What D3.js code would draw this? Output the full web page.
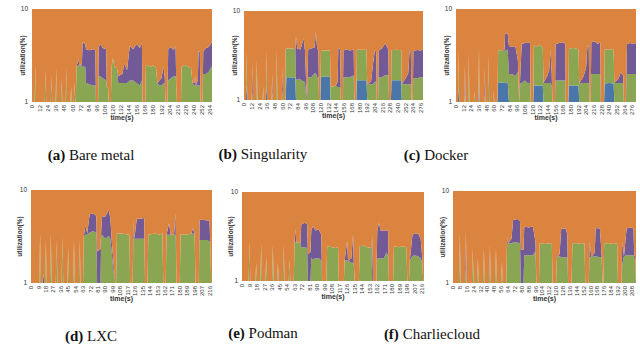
<!DOCTYPE html>
<html>
<head>
<meta charset="utf-8">
<script src="https://cdn.jsdelivr.net/npm/d3@7"></script>
<style>
  body { margin: 0; background: #fff; }
  text { font-family: "Liberation Sans", Arial, sans-serif; }
  .cap { font-family: "Liberation Serif", "DejaVu Serif", serif; font-size: 15px; fill: #111; }
</style>
</head>
<body>
<svg id="fig" width="640" height="347"></svg>
<script>
// rows: [time(s), blue, green, purple] -- utilisation in %, the rest (orange) is what is left up to 100
const bareMetal = [
  [0,0,0,0],[4,0,0,0],[5,0,2.5,0],[6,0,0,0],
  [19,0,0,0],[20,0,2.2,0],[21,0,0,0],
  [28,0,0,0],[29,0,1.7,0.2],[30,0,0,0],
  [35,0,0,0],[36,0,2.3,0],[37,0,0,0],
  [43,0,0,0],[44,0,1.6,0.2],[45,0,0,0],
  [50,0,0,0],[51,0,2.3,0],[52,0,0,0],
  [57,0,0,0],[58,0,1.45,0],[59,0,0,0],
  [62,0,0,0],[63,0,1.6,0],[64,0,0,0],
  [65,0,0,0],[66,0,2.4,0],[69,0,2.5,0.4],[70,0,2.5,0],[74,0,2.45,0.1],[75,0,2.4,2.0],[79,0,2.4,1.8],[80,0,1.6,2.1],[85,0,1.55,2.05],[90,0,1.5,2.2],[94,0,1.5,2.1],[95,0,0,0],
  [98,0,0,0],[99,0,1.9,2.0],[101,0,1.9,2.3],[105,0,1.8,2.0],[110,0,1.7,2.0],[111,0,1.45,0],[113,0,1.4,0],[114,0,0,0],
  [117,0,0,0],[118,0,2.4,0],[120,0,3.0,0],[122,0,2.4,0],[126,0,2.3,0],[128,0,1.6,0.3],[134,0,1.6,0.4],[137,0,1.6,1.0],[141,0,1.6,0.6],[145,0,1.7,2.3],[150,0,1.7,2.0],[155,0,1.6,2.6],[160,0,1.5,2.3],[163,0,1.7,2.6],[164,0,0,0],
  [168,0,0,0],[169,0,2.5,0],[176,0,2.4,0],[180,0,2.5,0],[184,0,2.3,0],[186,0,1.6,0],[189,0,1.5,0.2],[192,0,1.5,0.3],[195,0,1.6,0.8],[197,0,1.6,0.2],[198,0,0,0],
  [201,0,0,0],[202,0,1.7,2.0],[206,0,1.8,2.1],[210,0,1.9,1.7],[213,0,1.9,2.1],[214,0,1.5,0],[215,0,0,0],
  [221,0,0,0],[222,0,2.4,0],[226,0,2.5,0],[232,0,2.4,0],[236,0,2.3,0],[238,0,1.6,0],[241,0,1.5,0.1],[242,0,1.5,0.45],[243,0,1.5,0],[246,0,1.5,0.2],[247,0,1.5,2.0],[249,0,1.5,2.0],[250,0,0,0],
  [253,0,0,0],[254,0,2.0,1.5],[258,0,2.0,1.8],[262,0,2.1,1.8],[266,0,2.4,1.9],[267,0,2.4,2.0]
];

const singularity = [
  [0,0,0,0],[3,0,0,0],[4,1.5,2.1,0],[5,0,0,0],
  [12,0,0,0],[13,0,1.2,1.4],[14,0,0,0],
  [19,0,0,0],[20,0,2.8,0],[21,0,0,0],
  [29,0,0,0],[30,0,1.4,0],[31,0,0,0],
  [34,0,0,0],[35,1.5,2.1,0],[36,0,0,0],
  [43,0,0,0],[44,0,1.2,0.8],[45,0,0,0],
  [50,0,0,0],[51,0,3.6,0],[52,0,0,0],
  [59,0,0,0],[60,0,1.3,1.0],[61,0,0,0],
  [64,0,0,0],[65,0,3.7,0],[66,1.8,2.0,0],[72,1.8,2.0,0],[76,1.75,2.05,0],[80,1.8,1.9,0],[81,0,1.7,3.5],[83,0,1.7,2.1],[88,0,1.7,2.0],[93,0,1.6,3.3],[95,0,1.6,2.0],[97,0,0.5,1.0],[98,0,0,0],
  [100,0,1.8,1.9],[105,0,1.8,2.0],[110,0,2.0,1.9],[112,0,2.0,3.8],[114,0,1.8,2.0],[116,0,1.8,1.8],[117,0,0,0],
  [119,0,0,0],[120,1.8,1.8,0],[128,1.85,1.75,0],[134,1.8,1.8,0],[135,0,1.4,0],[143,0,1.45,0],[146,0,1.4,0.2],[147,0,1.4,2.5],[150,0,1.4,2.3],[151,0,0,0],
  [154,0,0,0],[155,0,1.8,1.8],[160,0,1.8,1.9],[165,0,1.8,1.8],[171,0,1.9,1.8],[172,0,0,0],
  [175,0,0,0],[176,1.67,2.0,0],[184,1.67,2.0,0],[191,1.67,2.0,0],[192,0,1.5,0],[198,0,1.5,0.1],[201,0,1.5,1.0],[204,0,1.6,2.0],[206,0,1.6,1.9],[207,0,0,0],
  [209,0,0,0],[210,0,1.8,1.8],[215,0,1.8,2.0],[220,0,1.9,2.4],[225,0,1.9,1.8],[226,0,0,0],
  [229,0,0,0],[230,1.67,1.95,0],[238,1.67,2.0,0],[245,1.67,1.95,0],[246,0,1.5,0],[252,0,1.5,0.25],[256,0,1.5,0.5],[258,0,1.5,2.1],[260,0,1.5,2.0],[261,0,0,0],
  [263,0,0,0],[264,0,1.75,1.8],[270,0,1.75,1.9],[275,0,1.8,1.8],[279,0,1.8,1.9]
];

const docker = [
  [0,0,0,0],[3,0,0,0],[4,1.5,2.1,0],[5,0,0,0],
  [13,0,0,0],[14,0,1.2,1.3],[15,0,0,0],
  [19,0,0,0],[20,0,3.3,0],[21,0,0,0],
  [28,0,0,0],[29,0,1.3,0],[30,0,0,0],
  [35,0,0,0],[36,1.6,2.2,0],[37,0,0,0],
  [44,0,0,0],[45,0,1.2,1.1],[46,0,0,0],
  [50,0,0,0],[51,0,3.2,0],[52,0,0,0],
  [58,0,0,0],[59,0,1.3,0],[60,0,0,0],
  [65,0,0,0],[66,1.64,1.96,0],[72,1.6,2.0,0],[76,1.64,1.9,0.1],[77,1.6,2.0,1.9],[81,1.64,2.0,1.8],[83,0,2.0,2.0],[88,0,2.0,1.9],[93,0,1.9,2.1],[97,0,2.1,0.7],[99,0,0.5,0.5],[101,0,1.6,0.6],[103,0,1.6,2.6],[108,0,1.7,2.6],[112,0,1.6,2.8],[116,0,1.6,2.7],[117,0,0,0],
  [121,0,0,0],[122,1.5,2.6,0],[126,1.5,2.4,0],[130,1.5,2.6,0],[136,1.5,2.4,0],[137,0,1.6,0],[143,0,1.6,0.3],[146,0,1.6,0.6],[148,0,1.6,2.0],[150,0,1.5,0.5],[151,0,0,0],
  [155,0,0,0],[156,0,1.7,2.5],[162,0,1.7,2.6],[167,0,1.7,2.7],[171,0,1.7,2.5],[172,0,0,0],
  [176,0,0,0],[177,1.5,2.25,0],[184,1.5,2.3,0],[192,1.5,2.2,0],[193,0,1.58,0],[200,0,1.6,0.3],[204,0,1.6,0.8],[206,0,1.6,2.5],[208,0,1.6,2.3],[209,0,0,0],
  [211,0,0,0],[212,0,2.0,2.4],[217,0,2.0,2.5],[222,0,2.0,2.2],[226,0,2.0,2.4],[227,0,0,0],
  [232,0,0,0],[233,1.58,2.1,0],[240,1.6,2.1,0],[247,1.58,2.1,0],[248,0,1.6,0],[255,0,1.6,0.2],[258,0,1.6,0.5],[262,0,1.6,0.3],[263,0,0,0],
  [266,0,0,0],[268,0,2.0,2.2],[273,0,2.0,2.3],[278,0,2.0,2.2],[282,0,2.0,2.3]
];

const lxc = [
  [0,0,0,0],[10,0,0,0],[11,0,3.4,0],[12,0,0,0],
  [14,0,0,0],[15,0,0.3,0.95],[16,0,0,0],
  [17,0,0,0],[18,0,2.9,0],[19,0,0,0],
  [23,0,0,0],[24,0,3.4,0],[25,0,0,0],
  [30,0,0,0],[31,0,2.9,0],[32,0,0,0],
  [37,0,0,0],[38,0,3.1,0],[39,0,0,0],
  [44,0,0,0],[45,0,2.45,0],[46,0,0,0],
  [51,0,0,0],[52,0,3.0,0],[53,0,0,0],
  [58,0,0,0],[59,0,2.9,0],[60,0,0,0],
  [63,0,0,0],[64,0,3.26,0],[66,0,3.3,0.9],[68,0,3.3,0.1],[71,0,3.5,2.0],[75,0,3.6,2.0],[79,0,3.5,1.8],[80,0,0.5,1.7],[84,0,0.5,1.8],[85,0,3.2,0.5],[86,0,3.3,1.9],[90,0,3.0,2.2],[94,0,3.2,2.9],[96,0,3.0,2.0],[98,0,2.0,0.6],[100,0,1.3,0.3],[102,0,0,0],
  [103,0,0,0],[104,0,3.4,0],[110,0,3.4,0],[115,0,3.35,0],[119,0,3.3,0],[120,0,0,0],
  [123,0,0,0],[124,0,3.0,1.6],[125,0,3.0,0],[128,0,3.0,1.9],[133,0,3.0,1.9],[137,0,3.0,2.0],[138,0,0,0],
  [141,0,0,0],[142,0,3.3,0],[150,0,3.4,0],[155,0,3.3,0],[159,0,3.4,0],[160,0,0,0],
  [163,0,0,0],[164,0,3.3,0],[167,0,3.3,1.1],[169,0,3.3,0],[173,0,3.3,0],[175,0,3.3,2.3],[176,0,0,0],
  [180,0,0,0],[181,0,3.35,0],[188,0,3.3,0],[194,0,3.4,0],[196,0,3.4,0.5],[198,0,3.3,0],[199,0,0,0],
  [203,0,0,0],[204,0,2.9,1.9],[208,0,2.9,1.9],[213,0,2.9,1.8],[216,0,2.8,1.9],[217,0,2.5,0],[218,0,0,0],[219,0,0,0]
];

const podman = [
  [0,0,0,0],[8,0,0,0],[9,0,2.74,0],[10,0,0,0],
  [16,0,0,0],[17,0,1.6,0],[18,0,0,0],
  [22,0,0,0],[23,0,2.6,0],[24,0,0,0],
  [28,0,0,0],[29,0,1.86,0],[30,0,0,0],
  [36,0,0,0],[37,0,2.5,0],[38,0,0,0],
  [42,0,0,0],[43,0,1.6,0],[44,0,0,0],
  [49,0,0,0],[50,0,2.5,0],[51,0,0,0],
  [56,0,0,0],[57,0,1.75,0],[58,0,0,0],
  [62,0,0,0],[63,0,2.74,0],[64,0,2.7,1.15],[65,0,2.7,0],[70,0,2.7,0],[71,0,2.4,1.9],[75,0,2.4,2.1],[78,0,2.35,2.0],[79,0,0.5,1.5],[82,0,0.5,1.6],[83,0,1.8,1.9],[85,0,1.75,2.4],[88,0,1.8,1.9],[92,0,1.8,2.0],[95,0,1.7,1.6],[96,0,0,0],
  [101,0,0,0],[102,0,2.45,0],[108,0,2.4,0],[112,0,2.35,0],[115,0,2.4,0],[116,0,0,0],
  [122,0,0,0],[123,0,1.7,0],[126,0,1.7,1.15],[127,0,1.7,0],[131,0,1.6,0.2],[133,0,1.6,1.8],[134,0,1.5,0],[135,0,0,0],
  [140,0,0,0],[141,0,2.45,0],[146,0,2.5,0],[150,0,2.4,0],[155,0,2.35,0],[156,0,1.0,2.2],[157,0,0,0],
  [161,0,0,0],[162,0,1.78,1.9],[164,0,1.8,2.7],[166,0,1.8,1.9],[170,0,1.8,1.9],[173,0,2.1,1.6],[175,0,1.9,1.8],[176,0,0,0],
  [181,0,0,0],[182,0,2.45,0],[188,0,2.4,0],[193,0,2.45,0],[197,0,2.4,0],[198,0,0,0],
  [200,0,0,0],[201,0,1.7,0],[204,0,1.9,1.3],[206,0,1.95,1.5],[211,0,1.9,1.5],[214,0,1.8,1.2],[216,0,1.6,0.2],[217,0,0,0],[218,0,0,0]
];

const charliecloud = [
  [0,0,0,0],[7,0,0,0],[8,0,2.6,0.85],[9,0,0,0],
  [14,0,0,0],[15,0,1.4,2.2],[16,0,0,0],
  [22,0,0,0],[23,0,2.4,0],[24,0,0,0],
  [28,0,0,0],[29,0,1.84,0],[30,0,0,0],
  [35,0,0,0],[36,0,2.37,0],[37,0,0,0],
  [42,0,0,0],[43,0,1.9,0.7],[44,0,0,0],
  [49,0,0,0],[50,0,2.4,0],[51,0,0,0],
  [56,0,0,0],[57,0,1.7,0],[58,0,0,0],
  [62,0,0,0],[63,0,2.6,0.6],[64,0,2.7,0],[68,0,2.7,0.3],[70,0,2.75,2.1],[75,0,2.75,2.2],[78,0,2.7,2.0],[79,0,0.5,1.8],[82,0,0.5,1.8],[83,0,2.0,2.1],[88,0,2.0,2.0],[93,0,2.0,2.1],[96,0,2.2,0.6],[97,0,0,0],
  [100,0,0,0],[101,0,2.7,0],[107,0,2.65,0],[112,0,2.7,0],[115,0,2.7,0],[116,0,0,0],
  [120,0,0,0],[121,0,1.92,0],[124,0,1.95,0.1],[126,0,1.9,2.0],[131,0,1.9,2.0],[133,0,1.9,1.5],[134,0,0,0],
  [138,0,0,0],[139,0,2.7,0],[145,0,2.7,0],[150,0,2.65,0],[153,0,2.7,0],[154,0,0,0],
  [158,0,0,0],[159,0,1.92,0.9],[161,0,1.92,0],[165,0,1.95,0.2],[166,0,1.95,2.0],[171,0,1.9,2.0],[173,0,1.9,0.1],[174,0,0,0],
  [175,0,0,0],[176,0,2.7,0],[182,0,2.7,0],[187,0,2.65,0],[191,0,2.7,0],[192,0,0,0],
  [196,0,0,0],[197,0,1.6,1.2],[199,0,1.95,0],[202,0,2.0,1.9],[207,0,2.0,2.0],[210,0,2.0,1.9],[211,0,1.8,0.2],[212,0,1.9,0],[213,0,0,0]
];

// x tick labels as printed under each panel
const ticksA = [0,12,24,36,48,60,72,84,96,108,120,132,144,156,168,180,192,204,216,228,240,252,264];
const ticksB = [0,12,24,36,48,60,72,84,96,108,120,132,144,156,168,180,192,204,216,228,240,252,264,276];
const ticksC = [0,12,24,36,48,60,72,84,96,108,120,132,144,156,168,180,192,204,216,228,240,252,264,276];
const ticksD = [0,9,18,27,36,45,54,63,72,81,90,99,108,117,126,135,144,153,162,171,180,189,198,207,216];
const ticksE = [0,9,18,27,36,45,54,63,72,81,90,99,108,117,126,135,144,153,162,171,180,189,198,207,216];
const ticksF = [0,8,16,24,32,40,48,56,64,72,80,88,96,104,112,120,128,136,144,152,160,168,176,184,192,200,208];

const yTicks = [1, 10];

const keys = ['blue', 'green', 'purple', 'orange'];
const colors = { blue: '#4a76aa', green: '#8ba652', purple: '#725a97', orange: '#db843f' };

const panels = [
  { rows: bareMetal, ticks: ticksA, tMax: 267, x0: 32, x1: 212, y0: 9, y1: 102, tag: '(a)', name: ' Bare metal', cx: 91, cy: 160, ty: 7 },
  { rows: singularity, ticks: ticksB, tMax: 279, x0: 244, x1: 423, y0: 11, y1: 100, tag: '(b)', name: ' Singularity', cx: 263, cy: 159, ty: 7 },
  { rows: docker, ticks: ticksC, tMax: 282, x0: 456, x1: 636, y0: 9, y1: 102, tag: '(c)', name: ' Docker', cx: 436, cy: 160, ty: 7 },
  { rows: lxc, ticks: ticksD, tMax: 219, x0: 31, x1: 212, y0: 190, y1: 283, tag: '(d)', name: ' LXC', cx: 91, cy: 341, ty: 9 },
  { rows: podman, ticks: ticksE, tMax: 218, x0: 242, x1: 424, y0: 192, y1: 281, tag: '(e)', name: ' Podman', cx: 263, cy: 338, ty: 9 },
  { rows: charliecloud, ticks: ticksF, tMax: 213, x0: 453, x1: 636, y0: 191, y1: 283, tag: '(f)', name: ' Charliecloud', cx: 432, cy: 339, ty: 8 }
];

const svg = d3.select('#fig');

panels.forEach((pn, i) => {
  const data = pn.rows.map(([t, b, g, p]) => ({ t, blue: b, green: g, purple: p, orange: 100 - b - g - p }));

  const x = d3.scaleLinear().domain([0, pn.tMax]).range([pn.x0, pn.x1]);
  const y = d3.scaleLog().domain([1, 10]).range([pn.y1, pn.y0]).clamp(true);

  const series = d3.stack().keys(keys)(data);

  const area = d3.area()
    .x(d => x(d.data.t))
    .y0(d => y(Math.max(1, d[0])))
    .y1(d => y(Math.max(1, d[1])));

  const g = svg.append('g');

  g.append('clipPath').attr('id', 'clip' + i)
    .append('rect')
    .attr('x', pn.x0).attr('y', pn.y0)
    .attr('width', pn.x1 - pn.x0).attr('height', pn.y1 - pn.y0);

  g.append('g').attr('clip-path', `url(#clip${i})`)
    .selectAll('path')
    .data(series)
    .enter()
    .append('path')
    .attr('d', area)
    .attr('fill', d => colors[d.key]);

  // y tick labels
  g.selectAll('.ytick')
    .data(yTicks)
    .enter()
    .append('text')
    .attr('x', pn.x0 - 4)
    .attr('y', d => y(d))
    .attr('dy', '0.35em')
    .attr('text-anchor', 'end')
    .style('font-size', '6.5px')
    .style('fill', '#333')
    .text(d => d);

  // x tick labels, rotated
  g.selectAll('.xtick')
    .data(pn.ticks)
    .enter()
    .append('text')
    .attr('transform', d => `translate(${x(d)},${pn.y1 + 3}) rotate(-90)`)
    .attr('dy', '0.35em')
    .attr('text-anchor', 'end')
    .style('font-size', '6px')
    .style('fill', '#333')
    .text(d => d);

  // axis titles
  g.append('text')
    .attr('x', (pn.x0 + pn.x1) / 2)
    .attr('y', pn.y1 + 18)
    .attr('text-anchor', 'middle')
    .style('font-size', '7px')
    .style('font-weight', 'bold')
    .style('fill', '#333')
    .text('time(s)');

  g.append('text')
    .attr('transform', `translate(${pn.x0 - pn.ty},${(pn.y0 + pn.y1) / 2}) rotate(-90)`)
    .attr('text-anchor', 'middle')
    .style('font-size', '6.5px')
    .style('font-weight', 'bold')
    .style('fill', '#333')
    .text('utilization(%)');

  // caption
  const cap = g.append('text')
    .attr('class', 'cap')
    .attr('x', pn.cx)
    .attr('y', pn.cy)
    .attr('text-anchor', 'middle');
  cap.append('tspan').style('font-weight', 'bold').text(pn.tag);
  cap.append('tspan').text(pn.name);
});
</script>
</body>
</html>
